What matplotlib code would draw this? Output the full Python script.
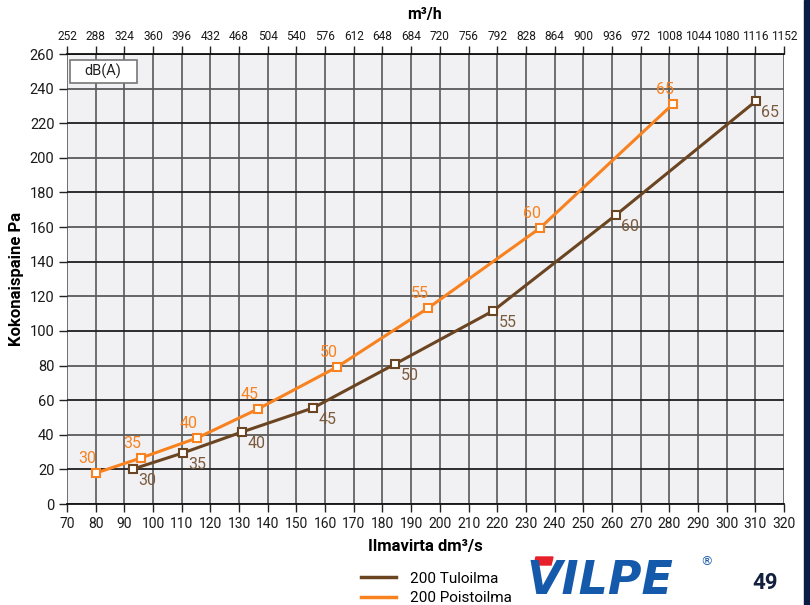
import matplotlib
matplotlib.use('Agg')
import matplotlib.pyplot as plt
from matplotlib.patches import Rectangle, Polygon
import numpy as np

# data (dm3/s, Pa, dB(A))
tulo_flow = [93, 110.4, 131, 155.8, 184.4, 218.5, 261.4, 310.2]
tulo_pa = [20.2, 29.5, 41.6, 55.5, 80.9, 111.5, 167, 232.8]
tulo_db = [30, 35, 40, 45, 50, 55, 60, 65]

poisto_flow = [80.1, 95.8, 115.3, 136.6, 164.1, 195.9, 234.9, 281.3]
poisto_pa = [17.9, 26.6, 38.1, 54.9, 79.1, 113.2, 159.4, 231.1]
poisto_db = [30, 35, 40, 45, 50, 55, 60, 65]

xticks = list(range(70, 321, 10))
yticks = list(range(0, 261, 20))
top_ticks = list(range(252, 1153, 36))

brown = '#6b4522'
brown_txt = '#7a5a3c'
orange = '#f7821f'
narrow = ['Roboto', 'DejaVu Sans']

fig = plt.figure(figsize=(8.1, 6.05), dpi=100)
ax = fig.add_axes([67/810, 1-504/605, (784-67)/810, (504-54)/605])
ax.set_facecolor('#f1f1f3')

ax.set_xlim(70, 320)
ax.set_ylim(0, 260)

# grid
for x in xticks:
    ax.axvline(x, color='#4a4a4a', lw=1.1, zorder=1)
for y in yticks:
    c = '#1e1e1e' if (y // 20) % 2 == 1 else '#5a5a5a'
    ax.axhline(y, color=c, lw=1.3, zorder=1)

for s in ['left', 'right']:
    ax.spines[s].set_visible(False)
ax.spines['bottom'].set_color('#111111')
ax.spines['top'].set_color('#111111')
ax.spines['bottom'].set_linewidth(1.3)
ax.spines['top'].set_linewidth(1.3)

ax.set_xticks(xticks)
ax.set_yticks(yticks)
ax.tick_params(axis='both', direction='out', length=6, width=1, color='#222222',
               labelsize=10.5, labelcolor='#1a1a1a', pad=3)
ax.tick_params(axis='x', labelsize=10)
for lab in ax.get_xticklabels() + ax.get_yticklabels():
    lab.set_family(narrow)

top = ax.secondary_xaxis('top', functions=(lambda v: v*3.6, lambda v: v/3.6))
top.set_xticks(top_ticks)
top.tick_params(direction='out', length=6, width=1, color='#222222',
                labelsize=8.6, labelcolor='#1a1a1a', pad=2)
for lab in top.get_xticklabels():
    lab.set_family(narrow)
top.spines['top'].set_visible(False)

# series
l1, = ax.plot(tulo_flow, tulo_pa, color=brown, lw=2.2, zorder=3, label='200 Tuloilma',
              marker='s', ms=6, mfc='white', mec=brown, mew=1.5)
l2, = ax.plot(poisto_flow, poisto_pa, color=orange, lw=2.2, zorder=3, label='200 Poistoilma',
              marker='s', ms=6, mfc='white', mec=orange, mew=1.5)

for x, y, d in zip(tulo_flow, tulo_pa, tulo_db):
    ax.annotate(str(d), (x, y), xytext=(4, -3), textcoords='offset points',
                ha='left', va='top', color=brown_txt, fontsize=11.5, family=narrow, zorder=4)
for x, y, d in zip(poisto_flow, poisto_pa, poisto_db):
    ax.annotate(str(d), (x, y), xytext=(-6, 5), textcoords='offset points',
                ha='center', va='bottom', color=orange, fontsize=11.5, family=narrow, zorder=4)

# dB(A) box
ax.add_patch(Rectangle((0.004, 0.936), 0.093, 0.051, transform=ax.transAxes,
                       facecolor='white', edgecolor='#777777', lw=1.2, zorder=5))
ax.text(0.050, 0.962, 'dB(A)', transform=ax.transAxes, ha='center', va='center',
        fontsize=10.5, family=narrow, color='#222222', zorder=6)

# titles
fig.text(425/810, 1-15/605, 'm³/h', ha='center', va='center', fontsize=11.5,
         fontweight='bold', family=narrow)
fig.text(425/810, 1-546/605, 'Ilmavirta dm³/s', ha='center', va='center', fontsize=12,
         fontweight='bold', family=narrow)
fig.text(17/810, 1-279/605, 'Kokonaispaine Pa', ha='center', va='center', rotation=90,
         fontsize=12, fontweight='bold', family=narrow)

# legend
fig.legend(handles=[l1, l2], labels=['200 Tuloilma', '200 Poistoilma'],
           loc='upper left', bbox_to_anchor=(350/810, 1-561/605), frameon=False,
           handlelength=2.3, handletextpad=0.9, labelspacing=0.35, borderpad=0.2,
           prop={'family': narrow, 'size': 11})
for h in fig.legends[0].legend_handles:
    h.set_marker('')
    h.set_linewidth(2.5)

# logo + page number
fig.text(527/810, 1-582/605, 'VILPE', ha='left', va='center', fontsize=33,
         fontweight='bold', style='italic', color='#1559aa', family='DejaVu Sans')
fig.patches.append(Polygon([[536/810, 1-557/605], [553/810, 1-557/605],
                            [551/810, 1-565/605], [534/810, 1-565/605]],
                           closed=True, transform=fig.transFigure, color='#e8202a'))
fig.text(706/810, 1-562/605, '®', ha='center', va='center', fontsize=9, color='#1559aa')
fig.text(765/810, 1-583/605, '49', ha='center', va='center', fontsize=16,
         fontweight='bold', color='#13213f', family=narrow)

# navy page-edge bar
fig.patches.append(Rectangle((804/810, 0), 6/810, 1, transform=fig.transFigure,
                             color='#0b1d44'))

fig.savefig('out.png', dpi=100)
